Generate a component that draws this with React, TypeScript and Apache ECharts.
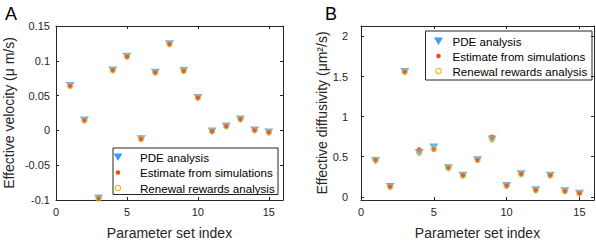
import React, { useEffect, useRef } from "react";
import * as echarts from "echarts";

const idx = [1, 2, 3, 4, 5, 6, 7, 8, 9, 10, 11, 12, 13, 14, 15];
const velPDE = [0.064, 0.0145, -0.0976, 0.0865, 0.106, -0.0122, 0.0832, 0.124, 0.0856, 0.047, -0.0012, 0.006, 0.016, 0.0002, -0.0027];
const velSim = [0.064, 0.0145, -0.0976, 0.0865, 0.106, -0.0122, 0.0832, 0.124, 0.0856, 0.047, -0.0012, 0.006, 0.016, 0.0002, -0.0027];
const velRR = [0.064, 0.0145, -0.0976, 0.0865, 0.106, -0.0122, 0.0832, 0.124, 0.0856, 0.047, -0.0012, 0.006, 0.016, 0.0002, -0.0027];
const diffPDE = [0.45, 0.125, 1.56, 0.55, 0.617, 0.36, 0.267, 0.459, 0.717, 0.1375, 0.284, 0.084, 0.267, 0.071, 0.042];
const diffSim = [0.467, 0.13, 1.555, 0.592, 0.584, 0.365, 0.27, 0.46, 0.75, 0.14, 0.285, 0.085, 0.27, 0.072, 0.044];
const diffRR = [0.455, 0.125, 1.56, 0.55, 0.6, 0.36, 0.267, 0.459, 0.72, 0.1375, 0.284, 0.084, 0.267, 0.071, 0.042];
const xTicks = [0, 5, 10, 15];
const velTicks = [-0.1, -0.05, 0, 0.05, 0.1, 0.15];
const diffTicks = [0, 0.5, 1, 1.5, 2];
const seriesNames = ["PDE analysis", "Estimate from simulations", "Renewal rewards analysis"];

const FONT = "'Liberation Sans', Arial, Helvetica, sans-serif";
const AX = "#262626";
const BLUE = "#3D9DF2";
const RED = "#E8501C";
const YEL = "#F0B21E";
const TRI = "path://M0,0L10,0L5,8.5Z";

function fmt(v: number) {
  return String(Math.round(v * 1000) / 1000);
}

function xAxes(grid: number) {
  const common = {
    gridIndex: grid,
    type: "value",
    min: 0,
    max: 16,
    splitLine: { show: false },
    axisLine: { show: true, onZero: false, lineStyle: { color: AX, width: 1 } },
  };
  return [
    {
      ...common,
      position: "bottom",
      axisTick: { show: true, inside: true, length: 3, customValues: xTicks, lineStyle: { color: AX } },
      axisLabel: { show: true, customValues: xTicks, margin: 6, color: AX, fontSize: 11, fontFamily: FONT, formatter: fmt },
      name: "Parameter set index",
      nameLocation: "middle",
      nameGap: 26,
      nameTextStyle: { color: AX, fontSize: 14, fontFamily: FONT },
    },
    {
      ...common,
      position: "top",
      axisTick: { show: true, inside: true, length: 3, customValues: xTicks, lineStyle: { color: AX } },
      axisLabel: { show: false },
    },
  ];
}

function yAxes(grid: number, min: number, max: number, ticks: number[], name: string, nameGap: number, labelMargin: number) {
  const common = {
    gridIndex: grid,
    type: "value",
    min,
    max,
    splitLine: { show: false },
    axisLine: { show: true, onZero: false, lineStyle: { color: AX, width: 1 } },
  };
  return [
    {
      ...common,
      position: "left",
      axisTick: { show: true, inside: true, length: 3, customValues: ticks, lineStyle: { color: AX } },
      axisLabel: { show: true, customValues: ticks, margin: labelMargin, color: AX, fontSize: 11, fontFamily: FONT, formatter: fmt },
      name,
      nameLocation: "middle",
      nameGap,
      nameTextStyle: { color: AX, fontSize: 14, fontFamily: FONT },
    },
    {
      ...common,
      position: "right",
      axisTick: { show: true, inside: true, length: 3, customValues: ticks, lineStyle: { color: AX } },
      axisLabel: { show: false },
    },
  ];
}

function series(xi: number, yi: number, a: number[], b: number[], c: number[]) {
  return [
    {
      name: seriesNames[0],
      type: "scatter",
      xAxisIndex: xi,
      yAxisIndex: yi,
      symbol: TRI,
      symbolSize: [9, 7.5],
      itemStyle: { color: BLUE },
      data: idx.map((x, i) => [x, a[i]]),
    },
    {
      name: seriesNames[1],
      type: "scatter",
      xAxisIndex: xi,
      yAxisIndex: yi,
      symbol: "circle",
      symbolSize: 4.5,
      itemStyle: { color: RED },
      data: idx.map((x, i) => [x, b[i]]),
    },
    {
      name: seriesNames[2],
      type: "scatter",
      xAxisIndex: xi,
      yAxisIndex: yi,
      symbol: "circle",
      symbolSize: 5.5,
      itemStyle: { color: "rgba(0,0,0,0)", borderColor: YEL, borderWidth: 1.1 },
      data: idx.map((x, i) => [x, c[i]]),
    },
  ];
}

function legendBox(x: number, y: number, w: number, h: number, iconX: number, textX: number, rows: number[]) {
  const children: any[] = [
    { type: "rect", shape: { x, y, width: w, height: h }, style: { fill: "#fff", stroke: AX, lineWidth: 1 } },
    {
      type: "polygon",
      shape: { points: [[iconX - 4.5, rows[0] - 3.5], [iconX + 4.5, rows[0] - 3.5], [iconX, rows[0] + 4]] },
      style: { fill: BLUE },
    },
    { type: "circle", shape: { cx: iconX, cy: rows[1], r: 2.3 }, style: { fill: RED } },
    { type: "circle", shape: { cx: iconX, cy: rows[2], r: 2.7 }, style: { fill: "none", stroke: YEL, lineWidth: 1.1 } },
  ];
  seriesNames.forEach((n, i) => {
    children.push({
      type: "text",
      x: textX,
      y: rows[i],
      style: { text: n, fill: "#000", fontSize: 11.6, fontFamily: FONT, verticalAlign: "middle", align: "left" },
    });
  });
  return { type: "group", z: 100, children };
}

export default function App() {
  const ref = useRef<HTMLDivElement>(null);
  useEffect(() => {
    document.body.style.margin = "0";
    if (!ref.current) return;
    const chart = echarts.init(ref.current, null, { renderer: "svg" });
    chart.setOption({
      animation: false,
      backgroundColor: "#fff",
      grid: [
        { left: 56, top: 26, width: 227, height: 175 },
        { left: 361, top: 26, width: 233, height: 174 },
      ],
      xAxis: [...xAxes(0), ...xAxes(1)],
      yAxis: [
        ...yAxes(0, -0.1, 0.15, velTicks, "Effective velocity (μ m/s)", 40, 6),
        ...yAxes(1, -0.04, 2.13, diffTicks, "Effective diffusivity (μm²/s)", 25, 13),
      ],
      series: [...series(0, 0, velPDE, velSim, velRR), ...series(2, 2, diffPDE, diffSim, diffRR)],
      graphic: [
        { type: "text", x: 5, y: 14, style: { text: "A", fontSize: 18, fontFamily: FONT, fill: "#000", verticalAlign: "middle" } },
        { type: "text", x: 325, y: 14, style: { text: "B", fontSize: 18, fontFamily: FONT, fill: "#000", verticalAlign: "middle" } },
        legendBox(113, 148, 165, 46.5, 118, 140, [157, 172.5, 188]),
        legendBox(425.5, 31, 166.5, 49, 438.5, 452.5, [41, 56, 71]),
      ],
    });
    return () => chart.dispose();
  }, []);
  return <div ref={ref} style={{ width: 596, height: 245 }} />;
}
